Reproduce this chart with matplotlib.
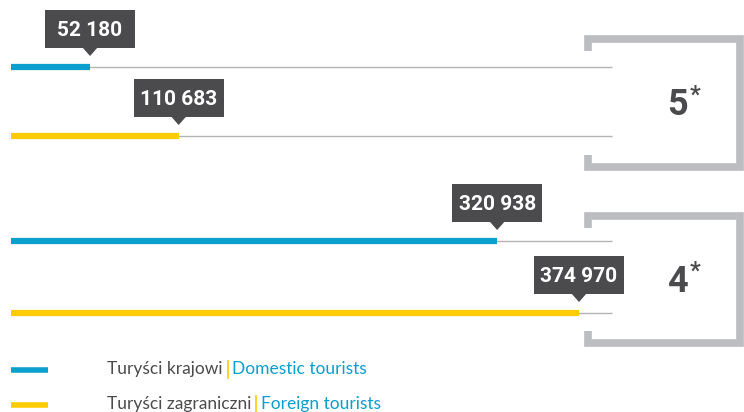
import matplotlib.pyplot as plt
from matplotlib.patches import Rectangle, Polygon

# dane
kategorie = ['5*', '4*']
krajowi = [52180, 320938]
zagraniczni = [110683, 374970]
etykiety = ['52 180', '110 683', '320 938', '374 970']

NIEBIESKI = '#0a9fcc'
ZOLTY = '#ffcb05'
SZARY_TXT = '#4b4b4d'
SZARY_RAMKA = '#bcbdc0'
SZARY_LINIA = '#b3b3b3'
BOLD = ['Roboto', 'DejaVu Sans']

W, H = 744, 412
fig = plt.figure(figsize=(W / 100, H / 100), dpi=100)
ax = fig.add_axes([0, 0, 1, 1])
ax.axis('off')

# skala: wartosc -> piksele
skala = 0.0015148
x0 = 11
ax.set_xlim(-x0 / skala, (W - x0) / skala)
ax.set_ylim(H, 0)
px = 1 / skala  # jeden piksel w jednostkach danych

koniec_linii = (612 - x0) / skala

wiersze = [(67, 136), (241, 313)]
ramki = [(39, 167), (216, 343)]

wartosci = []
for i, kat in enumerate(kategorie):
    yk, yz = wiersze[i]
    for y, v, kol in [(yk, krajowi[i], NIEBIESKI), (yz, zagraniczni[i], ZOLTY)]:
        ax.plot([0, koniec_linii], [y, y], color=SZARY_LINIA, lw=1, solid_capstyle='butt', zorder=1)
        ax.plot([0, v], [y, y], color=kol, lw=4.5, solid_capstyle='butt', zorder=2)
        wartosci.append((v, y))

    # nawias z kategoria
    yt, yb = ramki[i]
    xl = (588 - x0) / skala
    xr = (740 - x0) / skala
    ax.plot([xl, xl, xr, xr, xl, xl], [yt + 12, yt, yt, yb, yb, yb - 12],
            color=SZARY_RAMKA, lw=5.5, solid_joinstyle='miter', solid_capstyle='butt')
    ym = (yt + yb) / 2
    ax.text((688 - x0) / skala, ym + 2, kat[0], fontsize=26, fontweight='bold',
            family=BOLD, color=SZARY_TXT, ha='right', va='center')
    ax.text((690 - x0) / skala, ym - 8, '*', fontsize=17, fontweight='bold',
            family=BOLD, color=SZARY_TXT, ha='left', va='center')

# dymki z wartosciami
for (v, y), txt in zip(wartosci, etykiety):
    szer = 90 * px
    ax.add_patch(Rectangle((v - szer / 2, y - 57), szer, 38, color=SZARY_TXT, lw=0, zorder=3))
    ax.add_patch(Polygon([[v - 8 * px, y - 20], [v + 8 * px, y - 20], [v, y - 11]],
                         closed=True, color=SZARY_TXT, lw=0, zorder=3))
    ax.text(v, y - 37, txt, fontsize=15, fontweight='bold', family=BOLD,
            color='white', ha='center', va='center', zorder=4)

# legenda
leg = [('Turyści krajowi', 'Domestic tourists', NIEBIESKI, 370),
       ('Turyści zagraniczni', 'Foreign tourists', ZOLTY, 405)]
fig.canvas.draw()
r = fig.canvas.get_renderer()
for pl, en, kol, y in leg:
    ax.plot([0, (48 - x0) / skala], [y, y], color=kol, lw=4, solid_capstyle='butt')
    t1 = ax.text((107 - x0) / skala, y - 1, pl, fontsize=12.5, family='Lato',
                 color=SZARY_TXT, ha='left', va='center')
    bb = t1.get_window_extent(r)
    xs = bb.x1 + 5
    ax.plot([(xs - x0) / skala] * 2, [y - 9, y + 8], color=ZOLTY, lw=1.2)
    ax.text((xs + 5 - x0) / skala, y - 1, en, fontsize=12.5, family='Lato',
            color=NIEBIESKI, ha='left', va='center')

fig.savefig('out.png', dpi=100)
